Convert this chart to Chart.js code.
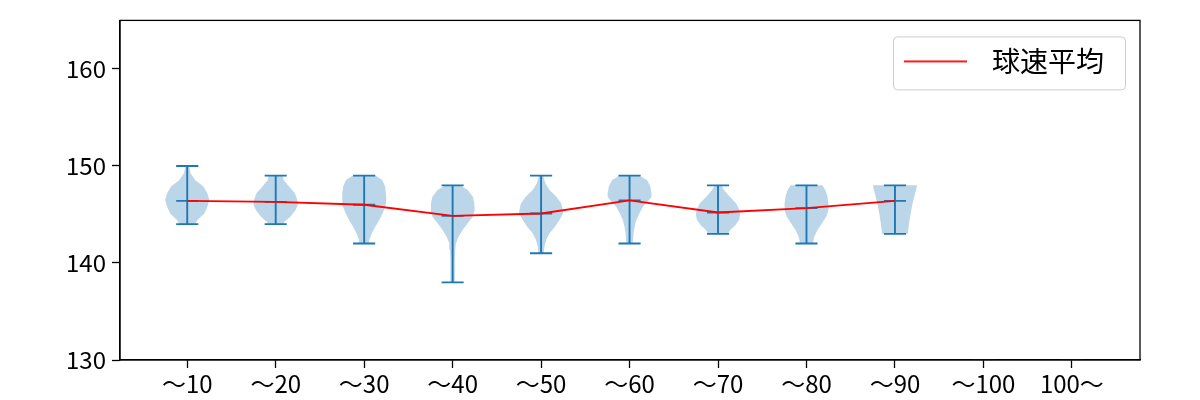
<!DOCTYPE html>
<html>
<head>
<meta charset="utf-8">
<script src="https://cdn.jsdelivr.net/npm/chart.js@4.4.0/dist/chart.umd.min.js"></script>
<style>
  html, body { margin: 0; padding: 0; background: #fff; }
</style>
</head>
<body>
<canvas id="chart" width="1200" height="400"></canvas>
<script>
const categories = ['～10', '～20', '～30', '～40', '～50', '～60', '～70', '～80', '～90', '～100', '100～']
const yTicks = [130, 140, 150, 160]

// per-category stats (km/h)
const maxValues = [150, 149, 149, 148, 149, 149, 148, 148, 148]
const minValues = [144, 144, 142, 138, 141, 142, 143, 142, 143]
const meanValues = [146.4, 146.3, 146.0, 144.85, 145.1, 146.45, 145.2, 145.65, 146.4]

// violin outlines: [speed, relative density 0..1], top to bottom
const density1 = [[150.0, 0.08], [149.25, 0.15], [148.56, 0.36], [147.87, 0.73], [147.18, 0.91], [146.5, 1.0], [145.8, 0.91], [145.1, 0.77], [144.4, 0.45], [144.0, 0.35]]
const density2 = [[149.0, 0.32], [148.56, 0.36], [147.87, 0.6], [147.18, 0.87], [146.5, 0.98], [146.0, 1.0], [145.45, 0.9], [144.76, 0.66], [144.25, 0.4], [144.0, 0.35]]
const density3 = [[149.0, 0.53], [148.56, 0.82], [147.87, 0.95], [147.18, 0.98], [146.5, 1.0], [145.8, 0.96], [145.1, 0.83], [144.4, 0.68], [143.74, 0.5], [143.06, 0.35], [142.37, 0.23], [142.0, 0.2]]
const density4 = [[148.0, 0.33], [147.53, 0.68], [146.84, 0.91], [146.15, 0.98], [145.46, 1.0], [144.77, 0.91], [144.09, 0.68], [143.4, 0.45], [142.71, 0.27], [142.03, 0.15], [141.34, 0.12], [140.3, 0.1], [139.28, 0.1], [138.0, 0.1]]
const density5 = [[149.0, 0.1], [148.21, 0.19], [147.53, 0.38], [146.84, 0.68], [146.15, 0.91], [145.46, 0.98], [145.12, 1.0], [144.43, 0.83], [143.74, 0.63], [143.06, 0.38], [142.37, 0.23], [141.68, 0.15], [141.0, 0.12]]
const density6 = [[149.0, 0.45], [148.56, 0.79], [147.87, 0.94], [147.18, 0.99], [146.84, 1.0], [146.33, 0.83], [145.8, 0.6], [145.1, 0.44], [144.4, 0.3], [143.74, 0.23], [143.06, 0.18], [142.0, 0.15]]
const density7 = [[148.0, 0.15], [147.53, 0.27], [146.84, 0.52], [146.15, 0.82], [145.46, 0.97], [144.95, 1.0], [144.43, 0.95], [143.92, 0.79], [143.4, 0.55], [143.0, 0.45]]
const density8 = [[148.0, 0.72], [147.53, 0.85], [146.84, 0.95], [146.15, 0.99], [145.46, 1.0], [144.77, 0.89], [144.09, 0.7], [143.4, 0.5], [142.71, 0.35], [142.0, 0.29]]
const density9 = [[148.0, 1.0], [147.5, 0.95], [147.18, 0.91], [146.15, 0.8], [145.12, 0.71], [144.09, 0.64], [143.0, 0.58]]
const densities = [density1, density2, density3, density4, density5, density6, density7, density8, density9]

// the two empty categories only leave a faint mark on the bottom spine
const emptyFloor = [130, 130]

const FONT = "'Noto Sans CJK JP', 'Noto Sans', sans-serif"
const BLUE = '#1f77b4'
const BODY = 'rgba(31, 119, 180, 0.3)'
const HALF_WIDTH = 0.25
const CAP = 0.125

const datasets = []

// mean line first so it ends up on top
datasets.push({
  label: '球速平均',
  data: meanValues.map((m, i) => ({ x: i + 1, y: m })),
  borderColor: 'red',
  backgroundColor: 'red',
  borderWidth: 1.8,
  pointRadius: 0,
  fill: false,
  order: 0,
})

maxValues.forEach((mx, i) => {
  const p = i + 1
  const mn = minValues[i]
  const mean = meanValues[i]
  datasets.push({
    label: '',
    data: [
      { x: p, y: mn }, { x: p, y: mx }, { x: p, y: null },
      { x: p - CAP, y: mx }, { x: p + CAP, y: mx }, { x: p, y: null },
      { x: p - CAP, y: mn }, { x: p + CAP, y: mn }, { x: p, y: null },
      { x: p - CAP, y: mean }, { x: p + CAP, y: mean },
    ],
    borderColor: BLUE,
    borderWidth: 1.9,
    pointRadius: 0,
    spanGaps: false,
    fill: false,
    order: 1,
  })
})

emptyFloor.forEach((v, j) => {
  const p = maxValues.length + j + 1
  datasets.push({
    label: '',
    data: [{ x: p - CAP, y: v }, { x: p + CAP, y: v }],
    borderColor: 'rgba(31, 119, 180, 0.25)',
    borderWidth: 2,
    pointRadius: 0,
    fill: false,
    order: 1,
  })
})

densities.forEach((prof, i) => {
  const p = i + 1
  const right = prof.map(([v, d]) => ({ x: p + d * HALF_WIDTH, y: v }))
  const left = prof.slice().reverse().map(([v, d]) => ({ x: p - d * HALF_WIDTH, y: v }))
  datasets.push({
    label: '',
    data: right.concat(left),
    backgroundColor: BODY,
    borderColor: 'rgba(0, 0, 0, 0)',
    borderWidth: 0,
    pointRadius: 0,
    fill: 'shape',
    order: 2,
  })
})

// legend handle: 63px red line followed by a small gap
const swatch = document.createElement('canvas')
swatch.width = 74
swatch.height = 4
const sctx = swatch.getContext('2d')
sctx.fillStyle = 'red'
sctx.fillRect(0, 1.1, 63, 1.8)

const framePlugin = {
  id: 'frame',
  afterLayout(chart) {
    const ca = chart.chartArea
    const lg = chart.legend
    if (!lg) return
    lg.left = ca.right - 246
    lg.top = ca.top + 17
    lg.right = ca.right
    lg.bottom = ca.bottom
  },
  afterDraw(chart) {
    const { ctx, chartArea: ca } = chart
    ctx.save()
    ctx.strokeStyle = '#000'
    ctx.lineWidth = 1.3
    ctx.strokeRect(ca.left, ca.top, ca.right - ca.left, ca.bottom - ca.top)
    // legend box
    const x = ca.right - 247, y = ca.top + 16, w = 232, h = 53, r = 4
    ctx.strokeStyle = '#cccccc'
    ctx.lineWidth = 1
    ctx.beginPath()
    ctx.roundRect(x + 0.5, y + 0.5, w, h, r)
    ctx.stroke()
    ctx.restore()
  },
}

const axisCommon = {
  type: 'linear',
  grid: { display: true, drawOnChartArea: false, drawTicks: true, tickLength: 8, tickColor: '#000', tickWidth: 1.3 },
  border: { display: true, color: '#000', width: 1.3 },
}

new Chart(document.getElementById('chart'), {
  type: 'line',
  data: { datasets },
  options: {
    responsive: false,
    animation: false,
    events: [],
    layout: { padding: { top: 19, right: 60, left: 0, bottom: 0 } },
    scales: {
      x: {
        ...axisCommon,
        min: 0.24,
        max: 11.77,
        afterBuildTicks: ax => { ax.ticks = categories.map((_, i) => ({ value: i + 1 })) },
        afterFit: ax => { ax.height = 40 },
        ticks: {
          color: '#000',
          padding: 1,
          maxRotation: 0,
          autoSkip: false,
          font: { size: 24, family: FONT },
          callback: v => categories[v - 1] ?? '',
        },
      },
      y: {
        ...axisCommon,
        min: 130,
        max: 165,
        afterBuildTicks: ax => { ax.ticks = yTicks.map(v => ({ value: v })) },
        afterFit: ax => { ax.width = 120 },
        ticks: {
          color: '#000',
          padding: 6,
          font: { size: 24, family: FONT },
        },
      },
    },
    plugins: {
      tooltip: { enabled: false },
      legend: {
        position: 'chartArea',
        align: 'start',
        labels: {
          usePointStyle: true,
          pointStyle: swatch,
          pointStyleWidth: 74,
          textAlign: 'left',
          padding: 10,
          color: '#000',
          font: { size: 28, family: FONT },
          filter: item => item.text === '球速平均',
        },
      },
    },
  },
  plugins: [framePlugin],
})
</script>
</body>
</html>
